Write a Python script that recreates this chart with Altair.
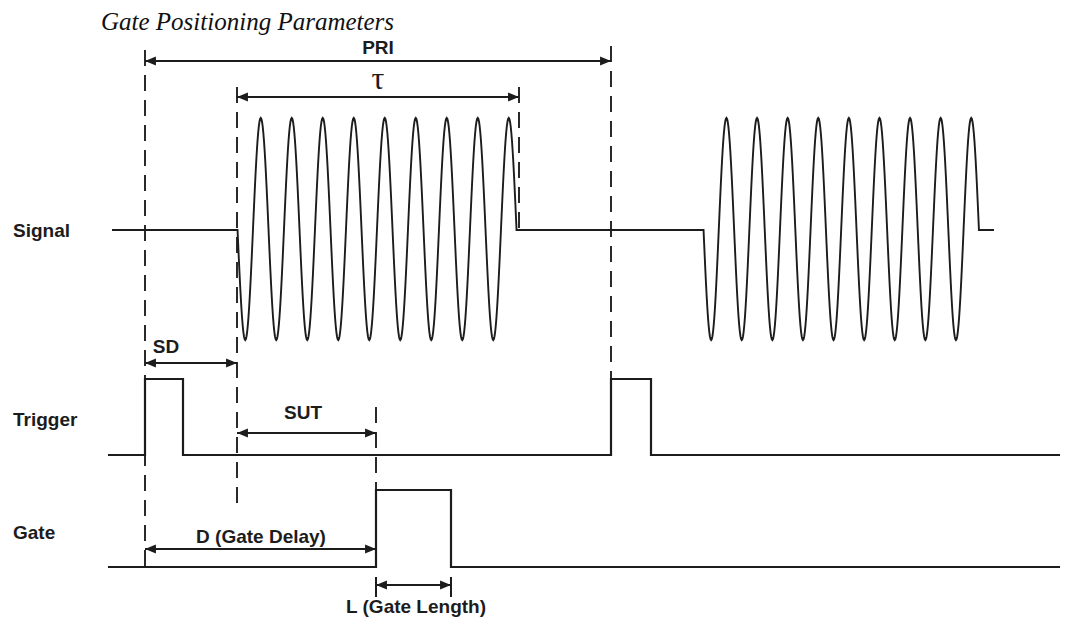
import altair as alt
import numpy as np
import pandas as pd

# ---- coordinate frame (diagram units = page pixels) ----
X_DOMAIN = [8, 1060]
Y_DOMAIN = [8, 618]

# ---- title ----
title_text = ["Gate Positioning Parameters"]
title_x = [101]
title_y = [10]

# ---- row labels ----
row_labels = ["Signal", "Trigger", "Gate"]
row_label_x = [13, 13, 13]
row_label_y = [231, 420, 533]

# ---- signal waveform ----
signal_level = 230
signal_span = [112, 994]
burst_start = [237.5, 703.5]
burst_period = [31.0, 30.6]
burst_cycles = [9, 9]
burst_center = 229
burst_amp = 111

# ---- trigger ----
trigger_low, trigger_high = 455, 379
trigger_span = [108, 1061]
trigger_pulses = [(145, 183), (611, 651)]

# ---- gate ----
gate_low, gate_high = 567, 490
gate_span = [108, 1061]
gate_pulses = [(376, 451)]

# ---- dashed reference lines ----
marker_x = [145, 237, 376, 519, 611]
marker_top = [50, 87, 407, 87, 46]
marker_bottom = [567, 507, 490, 230, 380]

# ---- dimension arrows ----
dim_labels = ["PRI", "τ", "SD", "SUT", "D (Gate Delay)", "L (Gate Length)"]
dim_x1 = [145, 237, 145, 237, 145, 376]
dim_x2 = [611, 519, 237, 376, 376, 451]
dim_y = [61, 97, 363, 433, 549, 585]
dim_label_x = [378, 378, 166, 303, 261, 416]
dim_label_y = [48, 79, 347, 413, 537, 607]

# L arrow end ticks
tick_x = [376, 451]
tick_top = [577, 577]
tick_bottom = [597, 597]

INK = "#1c1c1c"

# ---------- build tables ----------
def signal_table():
    xs, ys = [signal_span[0]], [signal_level]
    for s, T, n in zip(burst_start, burst_period, burst_cycles):
        xs.append(s)
        ys.append(signal_level)
        t = np.linspace(0, n * T, int(n * 48) + 1)
        xs.extend(list(s + t))
        ys.extend(list(burst_center + burst_amp * np.sin(2 * np.pi * t / T)))
        xs.append(s + n * T)
        ys.append(signal_level)
    xs.append(signal_span[1])
    ys.append(signal_level)
    return pd.DataFrame({"x": xs, "y": ys, "o": range(len(xs))})


def pulse_table(span, low, high, pulses):
    xs, ys = [span[0]], [low]
    for a, b in pulses:
        xs += [a, a, b, b]
        ys += [low, high, high, low]
    xs.append(span[1])
    ys.append(low)
    return pd.DataFrame({"x": xs, "y": ys, "o": range(len(xs))})


sig_df = signal_table()
trig_df = pulse_table(trigger_span, trigger_low, trigger_high, trigger_pulses)
gate_df = pulse_table(gate_span, gate_low, gate_high, gate_pulses)

marker_df = pd.DataFrame({"x": marker_x, "y": marker_top, "y2": marker_bottom})
dim_df = pd.DataFrame({"x": dim_x1, "x2": dim_x2, "y": dim_y})
tick_df = pd.DataFrame({"x": tick_x, "y": tick_top, "y2": tick_bottom})
head_r_df = pd.DataFrame({"x": dim_x2, "y": dim_y})
head_l_df = pd.DataFrame({"x": dim_x1, "y": dim_y})
lab_df = pd.DataFrame({"t": dim_labels, "x": dim_label_x, "y": dim_label_y})
sans_lab_df = lab_df[lab_df["t"] != "τ"]
tau_df = lab_df[lab_df["t"] == "τ"]
row_df = pd.DataFrame({"t": row_labels, "x": row_label_x, "y": row_label_y})
title_df = pd.DataFrame({"t": title_text, "x": title_x, "y": title_y})

xs = alt.Scale(domain=X_DOMAIN, nice=False, zero=False)
ys = alt.Scale(domain=Y_DOMAIN, nice=False, zero=False, reverse=True)
X = lambda f="x": alt.X(f"{f}:Q", scale=xs, axis=None)
Y = lambda f="y": alt.Y(f"{f}:Q", scale=ys, axis=None)


def line_layer(df, width=2.0):
    return alt.Chart(df).mark_line(color=INK, strokeWidth=width, strokeJoin="miter").encode(
        x=X(), y=Y(), order="o:Q"
    )


signal = line_layer(sig_df, 1.9)
trigger = line_layer(trig_df, 2.2)
gate = line_layer(gate_df, 2.2)

markers = alt.Chart(marker_df).mark_rule(color="#2a2a2a", strokeWidth=2, strokeDash=[16, 9]).encode(
    x=X(), y=Y(), y2="y2:Q"
)
dims = alt.Chart(dim_df).mark_rule(color=INK, strokeWidth=2).encode(x=X(), x2="x2:Q", y=Y())
ticks = alt.Chart(tick_df).mark_rule(color=INK, strokeWidth=2).encode(x=X(), y=Y(), y2="y2:Q")

head_r = alt.Chart(head_r_df).mark_point(
    shape="M0,0 L-2,-0.8 L-2,0.8 Z", filled=True, size=120, color=INK, opacity=1, strokeWidth=0
).encode(x=X(), y=Y())
head_l = alt.Chart(head_l_df).mark_point(
    shape="M0,0 L2,-0.8 L2,0.8 Z", filled=True, size=120, color=INK, opacity=1, strokeWidth=0
).encode(x=X(), y=Y())

dim_text = alt.Chart(sans_lab_df).mark_text(
    font="Liberation Sans", fontWeight="bold", fontSize=19, color=INK, align="center", baseline="middle"
).encode(x=X(), y=Y(), text="t:N")
tau_text = alt.Chart(tau_df).mark_text(
    font="Liberation Serif", fontSize=32, color=INK, align="center", baseline="middle"
).encode(x=X(), y=Y(), text="t:N")
row_text = alt.Chart(row_df).mark_text(
    font="Liberation Sans", fontWeight="bold", fontSize=19, color=INK, align="left", baseline="middle"
).encode(x=X(), y=Y(), text="t:N")
title = alt.Chart(title_df).mark_text(
    font="Liberation Serif", fontStyle="italic", fontSize=25, color="#111", align="left", baseline="top"
).encode(x=X(), y=Y(), text="t:N")

chart = alt.layer(
    markers, signal, trigger, gate, dims, ticks, head_r, head_l, dim_text, tau_text, row_text, title
).properties(
    width=1052, height=610, padding=0, autosize=alt.AutoSizeParams(type="none")
).configure_view(stroke=None)

chart.save("out.html", embed_options={"renderer": "svg", "actions": False})
